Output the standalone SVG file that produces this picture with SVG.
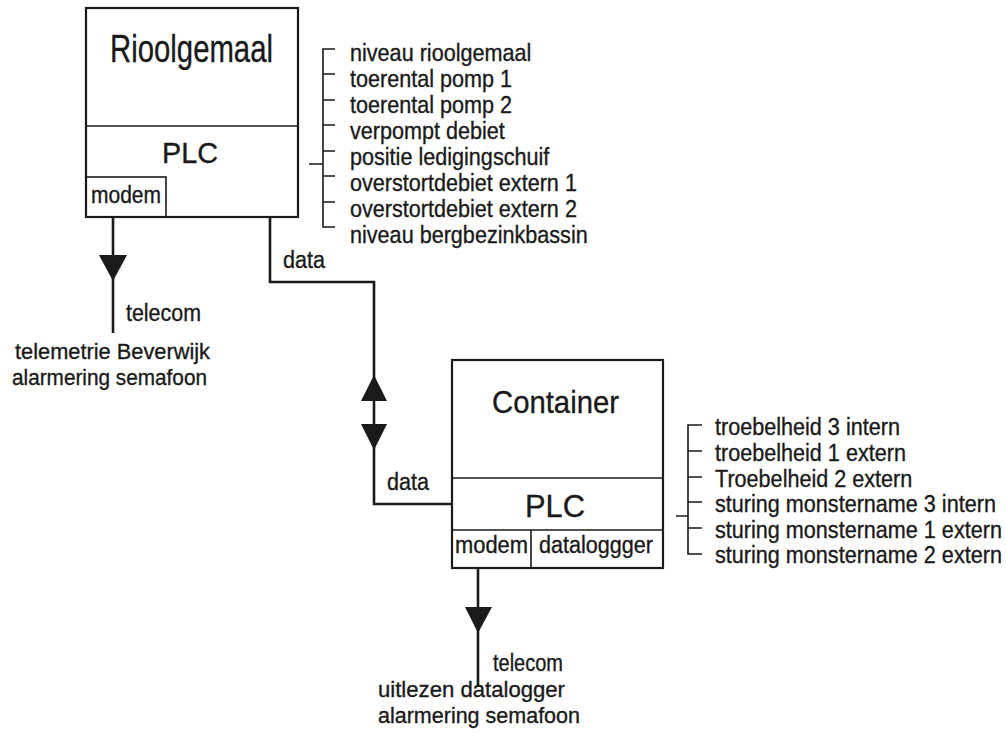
<svg xmlns="http://www.w3.org/2000/svg" width="1006" height="745" viewBox="0 0 1006 745">
<style>
text{font-family:"Liberation Sans",Arial,sans-serif;fill:#1a1a1a;stroke:#1a1a1a;stroke-width:0.35}
.box{fill:#fff;stroke:#1a1a1a;stroke-width:2.2}
.div{fill:none;stroke:#1a1a1a;stroke-width:1.6}
.wire{fill:none;stroke:#1a1a1a;stroke-width:2.6}
.brk{fill:none;stroke:#1a1a1a;stroke-width:1.6}
.head{fill:#1a1a1a;stroke:none}
.title{font-size:38px}
.plc{font-size:29px}
.sm{font-size:23px}
.cap{font-size:22px}
.lst{font-size:24px}
</style>
<rect width="1006" height="745" fill="#fff"/>
<g id="rioolgemaal">
<rect class="box" x="86" y="8" width="212" height="209"/>
<line class="div" x1="86" y1="126" x2="298" y2="126"/>
<rect class="div" x="86" y="177" width="80" height="40"/>
<text class="title" x="110" y="62" textLength="163" lengthAdjust="spacingAndGlyphs">Rioolgemaal</text>
<text class="plc" x="162" y="163" textLength="56" lengthAdjust="spacingAndGlyphs" style="font-size:29px">PLC</text>
<text class="sm" x="91" y="203" textLength="70" lengthAdjust="spacingAndGlyphs">modem</text>
</g>
<g id="container">
<rect class="box" x="452" y="360" width="211" height="208"/>
<line class="div" x1="452" y1="478" x2="663" y2="478"/>
<line class="div" x1="452" y1="530" x2="663" y2="530"/>
<line class="div" x1="531" y1="530" x2="531" y2="568"/>
<text class="title" x="492" y="413" textLength="127" lengthAdjust="spacingAndGlyphs" style="font-size:32px">Container</text>
<text class="plc" x="525" y="517" textLength="60" lengthAdjust="spacingAndGlyphs" style="font-size:31px">PLC</text>
<text class="sm" x="455" y="553" textLength="73" lengthAdjust="spacingAndGlyphs">modem</text>
<text class="sm" x="539" y="553" textLength="114" lengthAdjust="spacingAndGlyphs">dataloggger</text>
</g>
<g id="riool-signals">
<path class="brk" d="M335,49 H323 V227 H335 M323,74 H335 M323,100 H335 M323,125 H335 M323,151 H335 M323,176 H335 M323,202 H335 M309,164 H323"/>
<g transform="translate(350,0) scale(0.9,1)">
<text class="lst" x="0" y="61">niveau rioolgemaal</text>
<text class="lst" x="0" y="87">toerental pomp 1</text>
<text class="lst" x="0" y="113">toerental pomp 2</text>
<text class="lst" x="0" y="139">verpompt debiet</text>
<text class="lst" x="0" y="165">positie ledigingschuif</text>
<text class="lst" x="0" y="191">overstortdebiet extern 1</text>
<text class="lst" x="0" y="217">overstortdebiet extern 2</text>
<text class="lst" x="0" y="243">niveau bergbezinkbassin</text>
</g>
</g>
<g id="container-signals">
<path class="brk" d="M702,425 H688 V554 H702 M688,451 H702 M688,477 H702 M688,502 H702 M688,528 H702 M676,516 H688"/>
<g transform="translate(715,0) scale(0.9,1)">
<text class="lst" x="0" y="435">troebelheid 3 intern</text>
<text class="lst" x="0" y="461">troebelheid 1 extern</text>
<text class="lst" x="0" y="487">Troebelheid 2 extern</text>
<text class="lst" x="0" y="512">sturing monstername 3 intern</text>
<text class="lst" x="0" y="538">sturing monstername 1 extern</text>
<text class="lst" x="0" y="563">sturing monstername 2 extern</text>
</g>
</g>
<g id="connectors">
<line class="wire" x1="113" y1="217" x2="113" y2="333"/>
<polygon class="head" points="99,255 127,255 113,281"/>
<path class="wire" d="M270,217 V282 H374 V504 H452"/>
<polygon class="head" points="374,375 361,401 387,401"/>
<polygon class="head" points="361,424 387,424 374,450"/>
<line class="wire" x1="478" y1="568" x2="478" y2="687"/>
<polygon class="head" points="465,607 492,607 478,633"/>
</g>
<g id="labels">
<text class="sm" x="283" y="268" textLength="42" lengthAdjust="spacingAndGlyphs">data</text>
<text class="sm" x="387" y="490" textLength="42" lengthAdjust="spacingAndGlyphs">data</text>
<text class="sm" x="126" y="321" textLength="75" lengthAdjust="spacingAndGlyphs">telecom</text>
<text class="sm" x="493" y="671" textLength="70" lengthAdjust="spacingAndGlyphs">telecom</text>
<text class="cap" x="15" y="359" textLength="195" lengthAdjust="spacingAndGlyphs">telemetrie Beverwijk</text>
<text class="cap" x="12" y="385" textLength="195" lengthAdjust="spacingAndGlyphs">alarmering semafoon</text>
<text class="cap" x="378" y="697" textLength="187" lengthAdjust="spacingAndGlyphs">uitlezen datalogger</text>
<text class="cap" x="378" y="723" textLength="202" lengthAdjust="spacingAndGlyphs">alarmering semafoon</text>
</g>
</svg>
